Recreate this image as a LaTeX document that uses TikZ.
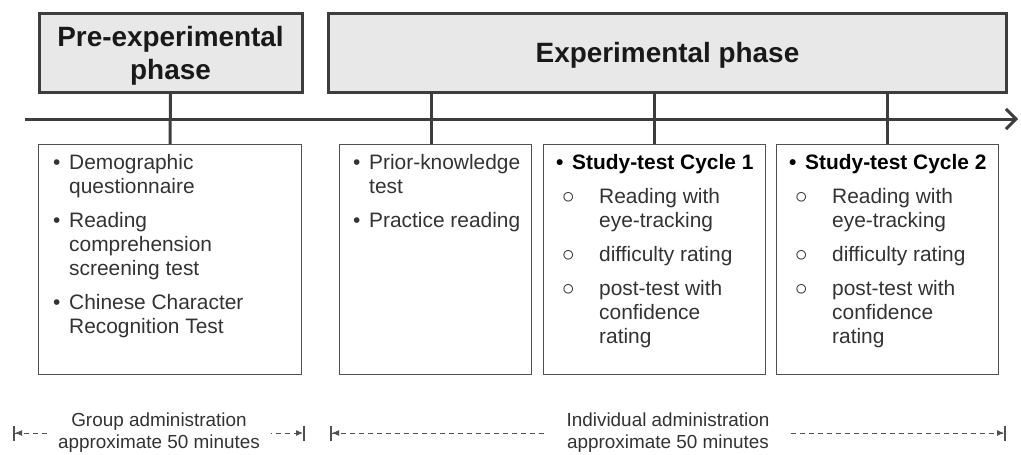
\documentclass[tikz,border=0pt]{standalone}
\usepackage{fontspec}
\setmainfont{Liberation Sans}
\usetikzlibrary{arrows.meta}

\definecolor{hdrfill}{HTML}{E8E8E8}
\definecolor{linedark}{HTML}{3D3D3D}
\definecolor{boxline}{HTML}{505050}
\definecolor{txt}{HTML}{333333}

\newcommand\bul{\makebox[16pt][l]{\textbullet}}
\newcommand\subbul{\hspace*{6pt}\makebox[37pt][l]{\raisebox{-0.5pt}{\scalebox{1.2}{$\circ$}}}}
\newcommand\indA{\hspace*{16pt}}
\newcommand\indB{\hspace*{43pt}}

\begin{document}
\begin{tikzpicture}[x=1pt, y=-1pt,
    phase/.style={draw=linedark, line width=3pt, fill=hdrfill, minimum height=79pt,
        text depth=0pt, align=center, text=black!90,
        font=\bfseries\fontsize{27.9}{33}\selectfont},
    stage/.style={draw=boxline, line width=1.3pt, minimum height=230pt},
    items/.style={anchor=north west, inner sep=0pt, align=left, text=txt,
        font=\fontsize{20.9}{24}\selectfont},
    link/.style={draw=linedark, line width=3pt},
    span/.style={draw=boxline, line width=1pt, dash pattern=on 5pt off 4pt,
        arrows={Bar[width=15pt,line width=2pt]Latex[length=7pt,width=6pt]-Latex[length=7pt,width=6pt]Bar[width=15pt,line width=2pt]}},
    note/.style={fill=white, align=center, text=txt, inner ysep=1pt,
        font=\fontsize{18.9}{22}\selectfont}
]
    \useasboundingbox (0,0) rectangle (1021,455);

    % Timeline
    \coordinate (t0) at (25,119);
    \coordinate (t1) at (1018,119);
    \draw[link, -{Straight Barb[length=10pt,width=20pt]}] (t0) -- (t1);

    % Phases
    \node[phase, minimum width=263pt] (pre) at (170.5,52.5) {Pre-experimental\\phase};
    \node[phase, minimum width=678pt] (exp) at (667.5,52.5) {Experimental phase};

    % Stages
    \node[stage, minimum width=263pt] (s1) at (170,259.5) {};
    \node[stage, minimum width=192pt] (s2) at (435.5,259.5) {};
    \node[stage, minimum width=222pt] (s3) at (654.5,259.5) {};
    \node[stage, minimum width=222pt] (s4) at (887.5,259.5) {};

    % Links
    \draw[link] (pre.south) -- (s1.north);
    \draw[link] (exp.south -| s2.north) ++(-4.5,0) -- ([xshift=-4.5pt]s2.north);
    \foreach \s in {s3,s4}
        \draw[link] (exp.south -| \s.north) -- (\s.north);

    % Lists
    \node[items] (l1) at (53,154) {\bul Demographic\\ \indA questionnaire\\[10pt]
        \bul Reading\\ \indA comprehension\\ \indA screening test\\[10pt]
        \bul Chinese Character\\ \indA Recognition Test};
    \node[items] (l2) at (353,154) {\bul Prior-knowledge\\ \indA test\\[10pt]
        \bul Practice reading};
    \node[items] (l3) at (556,154) {{\color{black}\bfseries\bul Study-test Cycle 1}\\[10pt]
        \subbul Reading with\\ \indB eye-tracking\\[10pt]
        \subbul difficulty rating\\[10pt]
        \subbul post-test with\\ \indB confidence\\ \indB rating};
    \node[items] (l4) at (789,154) {{\color{black}\bfseries\bul Study-test Cycle 2}\\[10pt]
        \subbul Reading with\\ \indB eye-tracking\\[10pt]
        \subbul difficulty rating\\[10pt]
        \subbul post-test with\\ \indB confidence\\ \indB rating};

    % Administration spans
    \coordinate (g0) at (13,433);
    \coordinate (g1) at (305,433);
    \coordinate (i0) at (330,433);
    \coordinate (i1) at (1006,433);
    \draw[span] (g0) -- node[note, inner xsep=11pt] (grp) {Group administration\\approximate 50 minutes} (g1);
    \draw[span] (i0) -- node[note, inner xsep=20pt] (ind) {Individual administration\\approximate 50 minutes} (i1);
\end{tikzpicture}
\end{document}
